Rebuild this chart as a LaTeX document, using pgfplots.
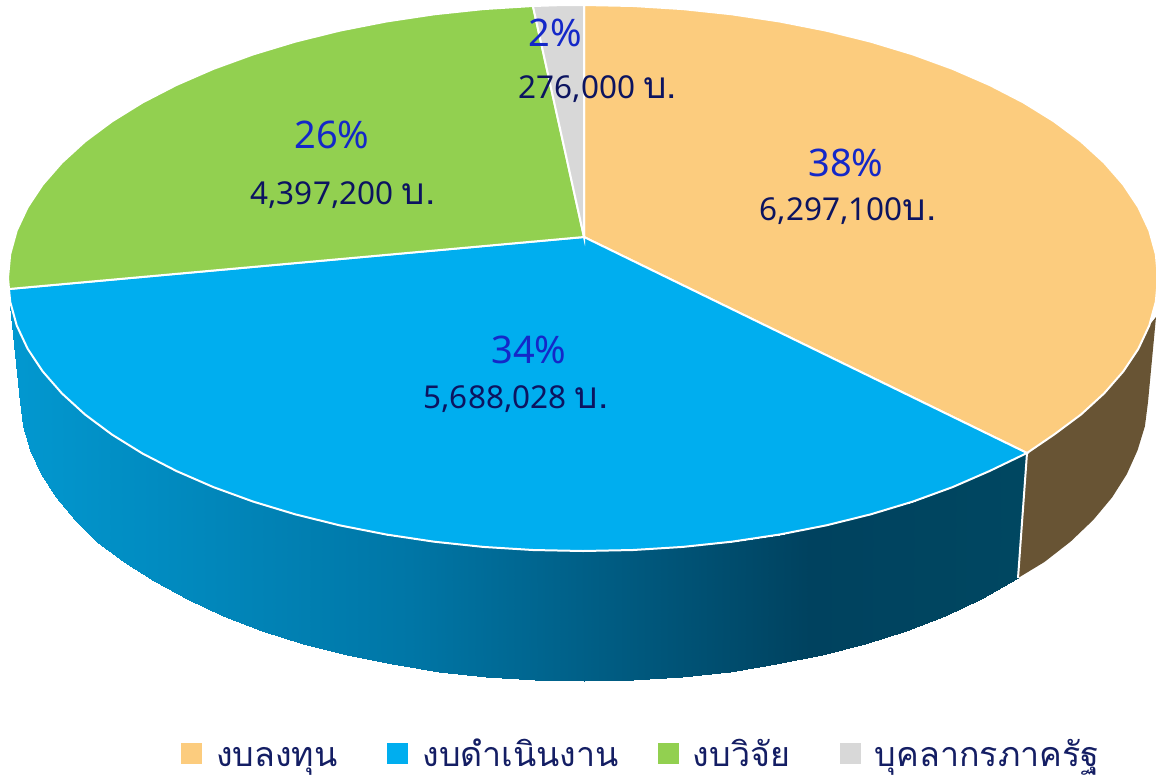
\documentclass[border=0pt]{standalone}
\usepackage{fontspec}
\setmainfont{Noto Sans}
\newfontfamily\thaifont[Script=Thai]{Loma}
\usepackage{pgfplots}
\pgfplotsset{compat=1.18}
\definecolor{cOrange}{RGB}{252,204,126}
\definecolor{cBlue}{RGB}{0,174,239}
\definecolor{cGreen}{RGB}{146,208,80}
\definecolor{cGrey}{RGB}{216,216,216}
\definecolor{cBrown}{RGB}{104,84,52}
\definecolor{cPct}{RGB}{20,40,200}
\definecolor{cVal}{RGB}{12,20,96}
\definecolor{cLeg}{RGB}{20,30,100}
\newcommand{\pctfont}{\fontsize{38}{42}\selectfont\color{cPct}}
\newcommand{\valfont}{\fontsize{31.5}{36}\selectfont\color{cVal}}
\newcommand{\baht}{{\thaifont\fontsize{37}{40}\selectfont บ.}}
\begin{document}
\begin{tikzpicture}
\begin{axis}[
  scale only axis, width=1156pt, height=782pt,
  xmin=0, xmax=1156, ymin=0, ymax=782, y dir=reverse,
  axis lines=none, clip=true,
  point meta min=10, point meta max=1018,
  colormap={side}{rgb255(0pt)=(2,152,208) rgb255(400pt)=(0,118,166) rgb255(800pt)=(0,66,95) rgb255(1008pt)=(0,71,97)},
  legend columns=4,
  legend style={at={(axis cs:181,757)}, anchor=west, draw=none, fill=none, inner sep=0pt,
    font=\thaifont\fontsize{34}{38}\selectfont\color{cLeg},
    /tikz/column 1/.style={column sep=14pt},
    /tikz/column 2/.style={column sep=50pt},
    /tikz/column 3/.style={column sep=14pt},
    /tikz/column 4/.style={column sep=39pt},
    /tikz/column 5/.style={column sep=14pt},
    /tikz/column 6/.style={column sep=50pt},
    /tikz/column 7/.style={column sep=14pt},
    nodes={inner xsep=0pt, inner ysep=0pt, text height=27pt, text depth=8pt}},
  legend image code/.code={\fill[#1,draw=none] (0pt,-6.5pt) rectangle (21pt,14.5pt);},
]
% side of the blue slice
\addplot[surf, shader=interp, mesh/rows=2, point meta=x, forget plot] coordinates {
(10,306) (12.5,313) (16.7,325.4) (27.6,348.7) (42.7,371.4) (61.9,393.4) (85,414.5) (112,434.6) (142.5,453.5) (176.4,471) (213.4,487.1) (253.2,501.6) (295.5,514.4) (340,525.4) (386.3,534.5) (434.2,541.7) (483.2,546.9) (532.9,550) (583,551) (633.1,550) (682.8,546.9) (731.8,541.7) (779.7,534.5) (826,525.4) (870.5,514.4) (912.8,501.6) (952.6,487.1) (989.6,471) (1027,453)
(20,402) (23,426.3) (30.5,450.4) (41.2,474.2) (55.9,497.4) (74.7,519.9) (97.3,541.5) (123.6,562) (153.5,581.3) (186.6,599.3) (222.7,615.7) (261.6,630.6) (303,643.6) (346.5,654.9) (391.8,664.2) (438.5,671.5) (486.4,676.8) (535,679.9) (584,681) (633,679.9) (681.6,676.8) (729.5,671.5) (776.2,664.2) (821.5,654.9) (865,643.6) (906.4,630.6) (945.3,615.7) (981.4,599.3) (1018,578)
};
% side of the orange slice
\addplot[fill=cBrown, draw=none, forget plot] coordinates {
(1027,453) (1054,434.6) (1081,414.5) (1104.1,393.4) (1123.3,371.4) (1138.4,348.7) (1149.3,325.4) (1156,317)
(1148,402) (1144.9,426.3) (1137.5,450.4) (1126.8,474.2) (1112.1,497.4) (1093.3,519.9) (1070.7,541.5) (1044.4,562) (1018,578)
} -- cycle;
\addplot[white, line width=2pt, forget plot] coordinates {(1027,453) (1018,578)};
% top faces
\addplot[fill=cOrange, draw=white, line width=2pt] coordinates {
(584,237) (584,5) (633.1,6) (682.8,9.1) (731.8,14.3) (779.7,21.5) (826,30.6) (870.5,41.6) (912.8,54.4) (952.6,68.9) (989.6,85) (1023.5,102.5) (1054,121.4) (1081,141.5) (1104.1,162.6) (1123.3,184.6) (1138.4,207.3) (1149.3,230.6) (1155.8,254.2) (1158,278) (1155.8,301.8) (1149.3,325.4) (1138.4,348.7) (1123.3,371.4) (1104.1,393.4) (1081,414.5) (1054,434.6) (1027,453)
} -- cycle;
\addlegendentry{งบลงทุน}
\addplot[fill=cBlue, draw=white, line width=2pt] coordinates {
(584,237) (1027,453) (989.6,471) (952.6,487.1) (912.8,501.6) (870.5,514.4) (826,525.4) (779.7,534.5) (731.8,541.7) (682.8,546.9) (633.1,550) (583,551) (532.9,550) (483.2,546.9) (434.2,541.7) (386.3,534.5) (340,525.4) (295.5,514.4) (253.2,501.6) (213.4,487.1) (176.4,471) (142.5,453.5) (112,434.6) (85,414.5) (61.9,393.4) (42.7,371.4) (27.6,348.7) (16.7,325.4) (10.2,301.8) (9,289)
} -- cycle;
\addlegendentry{งบดำเนินงาน}
\addplot[fill=cGreen, draw=white, line width=2pt] coordinates {
(584,237) (9,289) (8,278) (10.2,254.2) (16.7,230.6) (27.6,207.3) (42.7,184.6) (61.9,162.6) (85,141.5) (112,121.4) (142.5,102.5) (176.4,85) (213.4,68.9) (253.2,54.4) (295.5,41.6) (340,30.6) (386.3,21.5) (434.2,14.3) (483.2,9.1) (532.9,6)
} -- cycle;
\addlegendentry{งบวิจัย}
\addplot[fill=cGrey, draw=white, line width=2pt] coordinates {
(584,237) (532.9,6) (558,5.2) (584,5)
} -- cycle;
\addlegendentry{บุคลากรภาครัฐ}
% labels
\node[anchor=base] at (axis cs:846,176) {\pctfont 38\%};
\node[anchor=base] at (axis cs:848,220) {\valfont 6,297,100\baht};
\node[anchor=base] at (axis cs:529,363) {\pctfont 34\%};
\node[anchor=base] at (axis cs:516,408) {\valfont 5,688,028 \baht};
\node[anchor=base] at (axis cs:332,148) {\pctfont 26\%};
\node[anchor=base] at (axis cs:343,204) {\valfont 4,397,200 \baht};
\node[anchor=base] at (axis cs:555,46) {\pctfont 2\%};
\node[anchor=base] at (axis cs:598,98) {\valfont 276,000 \baht};
\end{axis}
\pgfresetboundingbox
\path[use as bounding box] (0,0) rectangle (1156pt,782pt);
\end{tikzpicture}
\end{document}
